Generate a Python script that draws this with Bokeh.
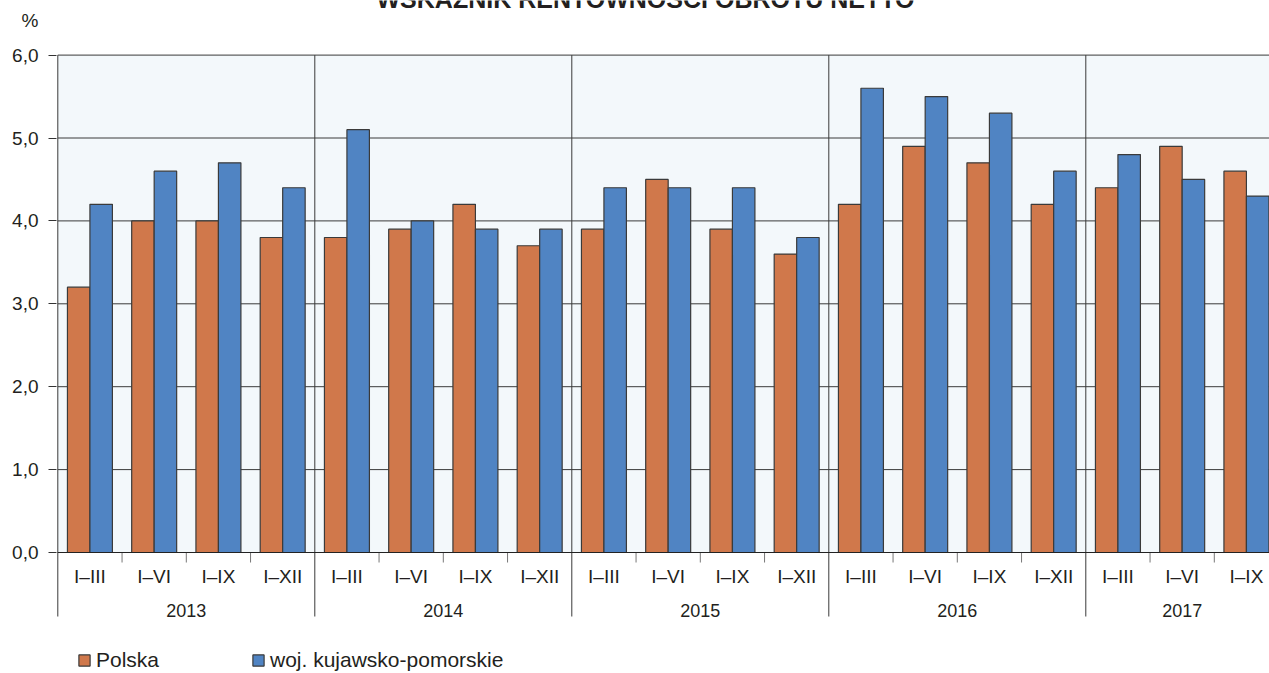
from bokeh.plotting import figure
from bokeh.models import Range1d, FixedTicker, Label, Legend, LegendItem, ColumnDataSource
from bokeh.core.properties import value
from bokeh.embed import file_html
from bokeh.resources import INLINE

# ---------------- data ----------------
title_text = "WSKAŹNIK RENTOWNOŚCI OBROTU NETTO"
unit_label = "%"
years = ["2013", "2014", "2015", "2016", "2017"]
periods = ["I–III", "I–VI", "I–IX", "I–XII"]
periods_per_year = [4, 4, 4, 4, 3]
series_names = ["Polska", "woj. kujawsko-pomorskie"]
polska = [3.2, 4.0, 4.0, 3.8,
          3.8, 3.9, 4.2, 3.7,
          3.9, 4.5, 3.9, 3.6,
          4.2, 4.9, 4.7, 4.2,
          4.4, 4.9, 4.6]
woj = [4.2, 4.6, 4.7, 4.4,
       5.1, 4.0, 3.9, 3.9,
       4.4, 4.4, 4.4, 3.8,
       5.6, 5.5, 5.3, 4.6,
       4.8, 4.5, 4.3]
y_ticks = [0, 1, 2, 3, 4, 5, 6]

# ---------------- layout (page pixels) ----------------
W, H = 1269, 673
X0, SLOT = 57.3, 64.25      # page x of first slot, slot width
Y0, UNIT = 552.0, 82.9      # page y of value 0, px per unit
FRAME_LEFT = 56
BAR_W = 0.35

FONT = value("Liberation Sans")
TXT = "#231f20"
ORANGE = "#d0784b"
BLUE = "#5084c3"
LINE = "#3a3a3a"


def xv(px):
    return (px - X0) / SLOT


def yv(py):
    return (Y0 - py) / UNIT


# category positions
centers, labels, year_centers, year_starts = [], [], [], []
for yi, n in enumerate(periods_per_year):
    start = 4 * yi
    year_starts.append(start)
    year_centers.append(start + n / 2)
    for pi in range(n):
        centers.append(start + pi + 0.5)
        labels.append(periods[pi])
n_slots = year_starts[-1] + periods_per_year[-1]
minor_ticks = [s + k for s in year_starts for k in range(1, 4)]

p = figure(width=W, height=H, output_backend="svg", toolbar_location=None,
           x_range=Range1d(xv(FRAME_LEFT), xv(W)),
           y_range=Range1d(yv(H), yv(0)),
           x_axis_location=None,
           min_border_left=FRAME_LEFT, min_border_right=0,
           min_border_top=0, min_border_bottom=0)
p.outline_line_color = None
p.xgrid.visible = False
p.ygrid.visible = False
p.background_fill_color = "white"
p.border_fill_color = "white"

# plot background
p.quad(left=[0], right=[n_slots + 1], bottom=[y_ticks[0]], top=[y_ticks[-1]],
       fill_color="#f3f8fb", line_color=None)

# horizontal grid lines
p.segment(x0=[0] * len(y_ticks), y0=y_ticks, x1=[n_slots + 1] * len(y_ticks), y1=y_ticks,
          line_color=LINE, line_width=1)

# year separators (extend down to year labels)
sep_bottom = yv(616)
p.segment(x0=year_starts, y0=[sep_bottom] * len(year_starts),
          x1=year_starts, y1=[y_ticks[-1]] * len(year_starts),
          line_color=LINE, line_width=1)

# minor ticks between periods
p.segment(x0=minor_ticks, y0=[0] * len(minor_ticks), x1=minor_ticks,
          y1=[yv(562)] * len(minor_ticks), line_color="#777777", line_width=1)

src = ColumnDataSource(dict(
    xp=[c - BAR_W / 2 for c in centers],
    xw=[c + BAR_W / 2 for c in centers],
    polska=polska, woj=woj))

r1 = p.vbar(x="xp", top="polska", bottom=0, width=BAR_W, source=src,
            fill_color=ORANGE, line_color=LINE, line_width=1.2)
r2 = p.vbar(x="xw", top="woj", bottom=0, width=BAR_W, source=src,
            fill_color=BLUE, line_color=LINE, line_width=1.2)

# axis baseline
p.segment(x0=[0], y0=[0], x1=[n_slots + 1], y1=[0], line_color="#222222", line_width=1.2)

# period labels
p.text(x=centers, y=[yv(576)] * len(centers), text=labels,
       text_font=FONT, text_font_size=value("19px"), text_color=TXT,
       text_align=value("center"), text_baseline=value("middle"))
# year labels
p.text(x=year_centers, y=[yv(610)] * len(years), text=years,
       text_font=FONT, text_font_size=value("18px"), text_color=TXT,
       text_align=value("center"), text_baseline=value("middle"))

# y axis (the unit "%" is shown as an extra label above the top tick)
unit_pos = yv(20)
ya = p.yaxis[0]
ya.ticker = FixedTicker(ticks=y_ticks + [unit_pos], minor_ticks=y_ticks)
overrides = {t: f"{t:.1f}".replace(".", ",") for t in y_ticks}
overrides[unit_pos] = unit_label
ya.major_label_overrides = overrides
ya.axis_line_color = None
ya.major_tick_line_color = None
ya.major_tick_out = 8
ya.major_tick_in = 0
ya.minor_tick_out = 8
ya.minor_tick_in = 0
ya.minor_tick_line_color = "#333333"
ya.major_label_standoff = 10
ya.major_label_text_font = "Liberation Sans"
ya.major_label_text_font_size = "19px"
ya.major_label_text_color = TXT

# title (cut at the top edge as in the source image)
p.add_layout(Label(x=xv(645), y=yv(-2), text=title_text, text_font="Liberation Sans",
                   text_font_size="25px", text_font_style="bold", text_color=TXT,
                   text_align="center", text_baseline="alphabetic"))

legend = Legend(items=[LegendItem(label=series_names[0], renderers=[r1]),
                       LegendItem(label=series_names[1], renderers=[r2])],
                location=(21, 1), orientation="horizontal",
                glyph_width=14, glyph_height=14, label_standoff=5,
                label_width=155, spacing=0, padding=0, margin=0,
                border_line_color=None, background_fill_alpha=0,
                label_text_font="Liberation Sans", label_text_font_size="21px",
                label_text_color=TXT)
p.add_layout(legend)

open("out.html", "w").write(file_html(p, INLINE))
